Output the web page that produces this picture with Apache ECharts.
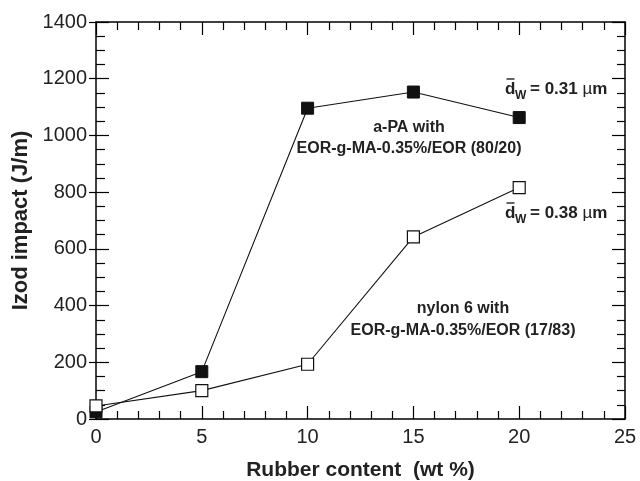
<!DOCTYPE html>
<html><head><meta charset="utf-8">
<script src="https://cdn.jsdelivr.net/npm/echarts@6/dist/echarts.min.js"></script>
<style>html,body{margin:0;padding:0;background:#fff}#c{width:640px;height:481px}</style>
</head><body><div id="c"></div>
<script>
const rubber = [0, 5, 10, 15, 20];
const aPA = [25, 167, 1096, 1153, 1063];
const nylon6 = [46, 100, 193, 642, 816];
const xTicks = [0, 5, 10, 15, 20, 25];
const yTicks = [0, 200, 400, 600, 800, 1000, 1200, 1400];

const F = '"Liberation Sans", Arial, Helvetica, sans-serif';
const chart = echarts.init(document.getElementById('c'));
const pair = (xs, ys) => xs.map((x, i) => [x, ys[i]]);
const line = {show: true, onZero: false, lineStyle: {color: '#000', width: 1.5}};
const tick = {show: true, inside: true, length: 13, lineStyle: {color: '#000', width: 1.2}};
function minor(n, len) { return {show: true, splitNumber: n, length: len, lineStyle: {color: '#000', width: 1.2}}; }
const lbl = {show: true, fontFamily: F, fontSize: 20, color: '#222', formatter: v => String(v)};

function dLabel(x, baseline, val) {
  return {type: 'group', x: x, y: baseline, children: [
    {type: 'text', x: 0, y: -6, style: {text: 'd', font: 'bold 17px ' + F, fill: '#222', verticalAlign: 'middle'}},
    {type: 'line', shape: {x1: 1.5, y1: -16, x2: 9.5, y2: -16}, style: {stroke: '#222', lineWidth: 1.4}},
    {type: 'text', x: 10, y: 0.5, style: {text: 'W', font: 'bold 12px ' + F, fill: '#222', verticalAlign: 'middle'}},
    {type: 'text', x: 25, y: -6, style: {rich: {
        b: {font: 'bold 17px ' + F, fill: '#222'},
        u: {font: '17px ' + F, fill: '#222'}},
      text: '{b|= ' + val + ' }{u|\u00b5}{b|m}', verticalAlign: 'middle'}}
  ]};
}

chart.setOption({
  animation: false,
  grid: {left: 96, right: 15, top: 22, bottom: 62, containLabel: false, outerBoundsMode: 'none'},
  xAxis: [
    {type: 'value', min: xTicks[0], max: xTicks[xTicks.length - 1], interval: 5, position: 'bottom',
      axisLine: line, axisTick: tick, minorTick: minor(5, 8), splitLine: {show: false},
      axisLabel: Object.assign({}, lbl, {margin: 8}),
      name: 'Rubber content  (wt %)', nameLocation: 'middle', nameGap: 41,
      nameTextStyle: {fontFamily: F, fontSize: 21, fontWeight: 'bold', color: '#222'}},
    {type: 'value', min: xTicks[0], max: xTicks[xTicks.length - 1], interval: 5, position: 'top',
      axisLine: line, axisTick: tick, minorTick: minor(5, 8), splitLine: {show: false}, axisLabel: {show: false}}
  ],
  yAxis: [
    {type: 'value', min: yTicks[0], max: yTicks[yTicks.length - 1], interval: 200, position: 'left',
      axisLine: line, axisTick: tick, minorTick: minor(4, 9), splitLine: {show: false},
      axisLabel: Object.assign({}, lbl, {margin: 9}),
      name: 'Izod impact (J/m)', nameLocation: 'middle', nameGap: 61,
      nameTextStyle: {fontFamily: F, fontSize: 22, fontWeight: 'bold', color: '#222'}},
    {type: 'value', min: yTicks[0], max: yTicks[yTicks.length - 1], interval: 200, position: 'right',
      axisLine: line, axisTick: tick, minorTick: minor(4, 8), splitLine: {show: false}, axisLabel: {show: false}},
    {type: 'value', min: yTicks[0], max: yTicks[yTicks.length - 1], interval: 200, position: 'left',
      axisLine: {show: false, onZero: false}, axisLabel: {show: false}, splitLine: {show: false},
      axisTick: {show: true, inside: false, length: 7, lineStyle: {color: '#000', width: 1.2}}}
  ],
  series: [
    {type: 'line', data: pair(rubber, aPA), symbol: 'rect', symbolSize: 12,
      lineStyle: {color: '#111', width: 1.1}, itemStyle: {color: '#111', borderColor: '#111', borderWidth: 1}, z: 3},
    {type: 'line', data: pair(rubber, nylon6), symbol: 'rect', symbolSize: 12,
      lineStyle: {color: '#111', width: 1.1}, itemStyle: {color: '#fff', borderColor: '#111', borderWidth: 1.2}, z: 4}
  ],
  graphic: [
    dLabel(505, 95, '0.31'),
    dLabel(505, 219, '0.38'),
    {type: 'text', x: 409, y: 138, style: {text: 'a-PA with\nEOR-g-MA-0.35%/EOR (80/20)', align: 'center', verticalAlign: 'middle',
      lineHeight: 21, font: 'bold 16px ' + F, fill: '#222'}},
    {type: 'text', x: 463, y: 320, style: {text: 'nylon 6 with\nEOR-g-MA-0.35%/EOR (17/83)', align: 'center', verticalAlign: 'middle',
      lineHeight: 22, font: 'bold 16px ' + F, fill: '#222'}}
  ]
});
</script></body></html>
